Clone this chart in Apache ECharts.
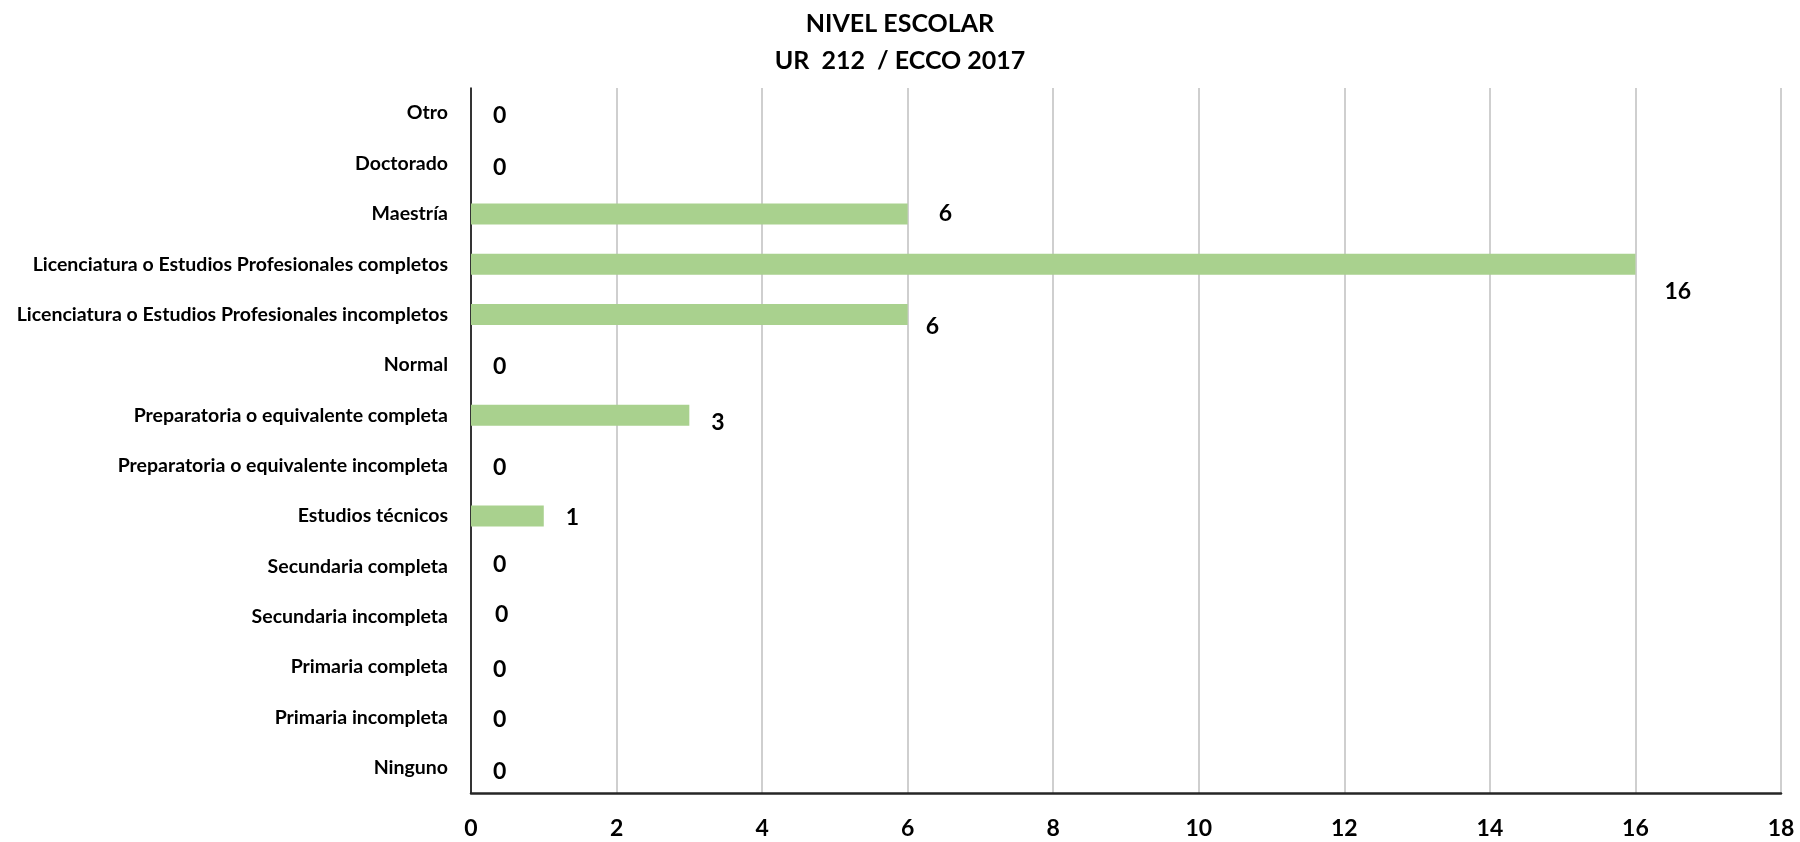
<!DOCTYPE html>
<html><head><meta charset="utf-8">
<script src="https://cdn.jsdelivr.net/npm/echarts@6/dist/echarts.min.js"></script>
<style>html,body{margin:0;padding:0;background:#fff}#c{width:1800px;height:842px}</style>
</head><body><div id="c"></div>
<script>
// Categories bottom-to-top (ECharts category y-axis starts at the bottom)
const categories = [
  "Ninguno",
  "Primaria incompleta",
  "Primaria completa",
  "Secundaria incompleta",
  "Secundaria completa",
  "Estudios técnicos",
  "Preparatoria o equivalente incompleta",
  "Preparatoria o equivalente completa",
  "Normal",
  "Licenciatura o Estudios Profesionales incompletos",
  "Licenciatura o Estudios Profesionales completos",
  "Maestría",
  "Doctorado",
  "Otro"
];
const values = [0, 0, 0, 0, 0, 1, 0, 3, 0, 6, 16, 6, 0, 0];
const xTicks = [0, 2, 4, 6, 8, 10, 12, 14, 16, 18];
const titleLines = ["NIVEL ESCOLAR", "UR  212  / ECCO 2017"];
// label nudges (style only), same order as categories
const labelOffsets = [[0,4],[0,2],[0,2],[2,-2],[0,-2],[0,2],[0,2],[0,7],[0,2],[-4,12],[7,27],[9,0],[0,4],[0,2]];

const chart = echarts.init(document.getElementById('c'), null, {renderer: 'canvas'});
const FONT = 'Lato, "Open Sans", sans-serif';
chart.setOption({
  animation: false,
  backgroundColor: '#ffffff',
  title: {
    text: titleLines.join('\n'),
    left: 'center',
    top: 0,
    textStyle: {fontFamily: FONT, fontWeight: 'bold', fontSize: 25, color: '#000', lineHeight: 37}
  },
  grid: {left: 471, right: 19, top: 88, bottom: 49, containLabel: false},
  xAxis: {
    type: 'value',
    min: 0, max: 18, interval: 2,
    axisLine: {show: true, lineStyle: {color: '#262626', width: 2.5}},
    axisTick: {show: false},
    splitLine: {show: true, lineStyle: {color: '#bfbfbf', width: 1.5}},
    axisLabel: {
      margin: 24,
      fontFamily: FONT, fontWeight: 'bold', fontSize: 23, color: '#000',
      formatter: v => xTicks.includes(v) ? String(v) : ''
    }
  },
  yAxis: {
    type: 'category',
    data: categories,
    axisLine: {show: true, onZero: false, lineStyle: {color: '#000', width: 1.5}},
    axisTick: {show: false},
    splitLine: {show: false},
    axisLabel: {margin: 23, fontFamily: FONT, fontWeight: 'bold', fontSize: 19.5, color: '#000'}
  },
  series: [{
    type: 'bar',
    barWidth: 21,
    itemStyle: {color: '#a9d18e'},
    data: values.map((v, i) => ({
      value: v,
      label: {offset: labelOffsets[i]}
    })),
    label: {
      show: true,
      position: 'right',
      distance: 22,
      fontFamily: FONT, fontWeight: 'bold', fontSize: 23, color: '#000'
    }
  }]
});
</script></body></html>
